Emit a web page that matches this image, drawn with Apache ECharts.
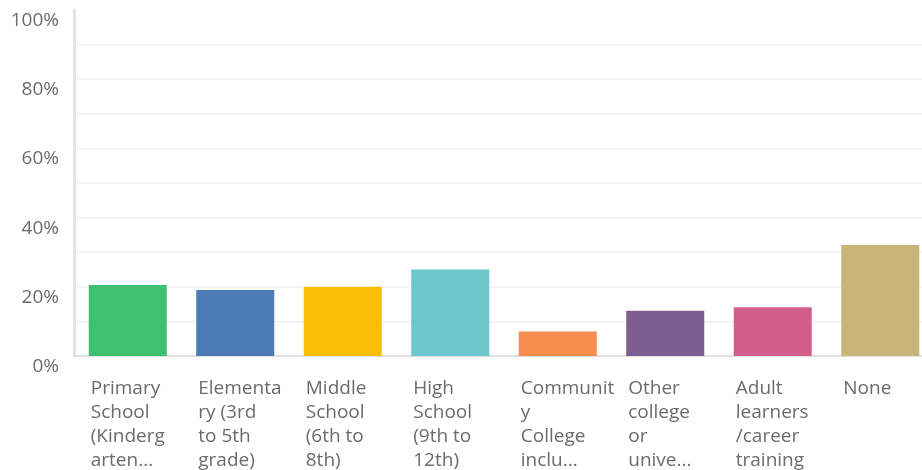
<!DOCTYPE html>
<html>
<head>
<meta charset="utf-8">
<script src="https://cdn.jsdelivr.net/npm/echarts@6/dist/echarts.min.js"></script>
<style>html,body{margin:0;padding:0;background:#fff;}#c{width:922px;height:470px;}</style>
</head>
<body>
<div id="c"></div>
<script>
const categories = [
  "Primary\nSchool\n(Kinderg\narten...",
  "Elementa\nry (3rd\nto 5th\ngrade)",
  "Middle\nSchool\n(6th to\n8th)",
  "High\nSchool\n(9th to\n12th)",
  "Communit\ny\nCollege\ninclu...",
  "Other\ncollege\nor\nunive...",
  "Adult\nlearners\n/career\ntraining",
  "None"
];
const values = [20.5, 19.1, 20.0, 25.0, 7.1, 13.1, 14.1, 32.1];
const colors = ["#3fbf6f", "#4f7bb5", "#f8be05", "#6cc8cc", "#f78d4f", "#7d5e91", "#d35e8c", "#c8b679"];
const yTicks = [0, 20, 40, 60, 80, 100];

const chart = echarts.init(document.getElementById('c'), null, {renderer: 'canvas'});
chart.setOption({
  animation: false,
  grid: {left: 74, top: 10, width: 860, height: 346, containLabel: false, outerBoundsMode: 'none'},
  xAxis: {
    type: 'category',
    data: categories,
    axisLine: {lineStyle: {color: '#e0e0e0', width: 2}},
    axisTick: {show: false},
    axisLabel: {
      interval: 0,
      margin: 21,
      formatter: v => v.split('\n').map(l => '{a|' + l + '}').join('\n'),
      rich: {a: {width: 74, align: 'left', fontSize: 19, lineHeight: 24, color: '#6b6b6b', fontFamily: 'Open Sans'}}
    }
  },
  yAxis: {
    type: 'value',
    min: 0, max: 100, interval: 10,
    axisLine: {show: true, lineStyle: {color: '#e4e4e4', width: 3}},
    axisTick: {show: false},
    splitLine: {showMaxLine: false, lineStyle: {color: '#efefef', width: 1.5}},
    axisLabel: {
      margin: 15,
      verticalAlign: 'top',
      padding: [1, 0, 0, 0],
      fontSize: 19,
      color: '#6b6b6b',
      fontFamily: 'Open Sans',
      formatter: v => yTicks.includes(v) ? v + '%' : ''
    }
  },
  series: [{
    type: 'bar',
    data: values.map((v, i) => ({value: v, itemStyle: {color: colors[i]}})),
    barWidth: 78
  }]
});
</script>
</body>
</html>
